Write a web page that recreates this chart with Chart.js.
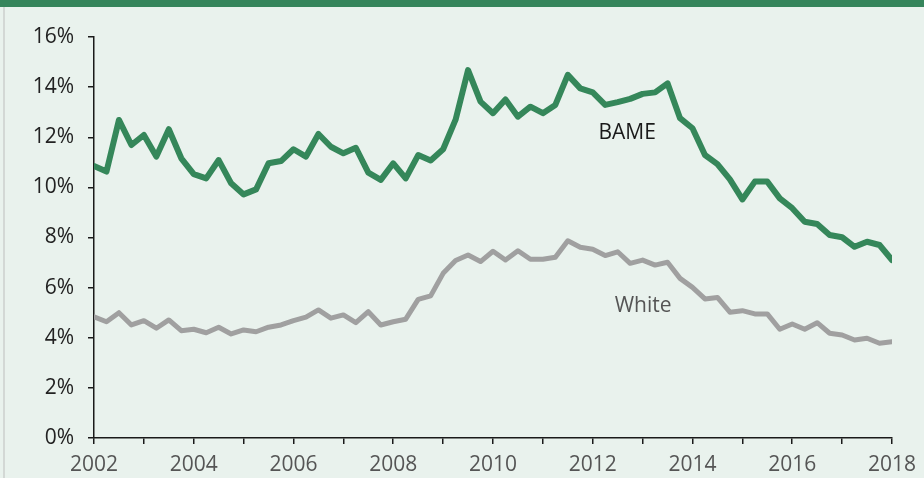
<!DOCTYPE html>
<html>
<head>
<meta charset="utf-8">
<script src="https://cdn.jsdelivr.net/npm/chart.js@4"></script>
<style>
  body { margin: 0; width: 924px; height: 478px; overflow: hidden; background: #e9f2ed; font-family: "Open Sans", sans-serif; }
  .banner { position: absolute; left: 0; top: 0; width: 924px; height: 7px; background: #35855b; }
  .edge { position: absolute; left: 3px; top: 7px; width: 2px; height: 471px; background: #d3d8d5; }
  #wrap { position: absolute; left: 0; top: 0; width: 924px; height: 478px; }
</style>
</head>
<body>
<div class="banner"></div>
<div class="edge"></div>
<div id="wrap"><canvas id="lineChart"></canvas></div>
<script>
// Quarterly rates, 2002 Q1 to 2018 Q1 (%)
const startYear = 2002;
const bame = [10.85, 10.63, 12.69, 11.69, 12.09, 11.23, 12.32, 11.16, 10.53, 10.36,
  11.09, 10.16, 9.72, 9.92, 10.96, 11.05, 11.52, 11.23, 12.13, 11.62,
  11.36, 11.58, 10.59, 10.30, 10.96, 10.36, 11.29, 11.07, 11.52, 12.7,
  14.68, 13.42, 12.96, 13.51, 12.82, 13.22, 12.96, 13.29, 14.49, 13.95,
  13.79, 13.29, 13.40, 13.53, 13.73, 13.79, 14.15, 12.76, 12.36, 11.29,
  10.93, 10.32, 9.52, 10.23, 10.23, 9.56, 9.17, 8.63, 8.54, 8.10,
  8.01, 7.63, 7.83, 7.70, 7.10];
const white = [4.84, 4.64, 5.00, 4.51, 4.68, 4.38, 4.71, 4.28, 4.34, 4.20,
  4.42, 4.15, 4.31, 4.24, 4.42, 4.51, 4.68, 4.82, 5.11, 4.78,
  4.91, 4.60, 5.04, 4.51, 4.64, 4.74, 5.53, 5.67, 6.57, 7.08,
  7.30, 7.04, 7.45, 7.10, 7.47, 7.13, 7.13, 7.21, 7.87, 7.61,
  7.53, 7.28, 7.43, 6.97, 7.10, 6.90, 7.01, 6.37, 6.01, 5.55,
  5.61, 5.02, 5.08, 4.95, 4.95, 4.34, 4.55, 4.34, 4.60, 4.18,
  4.11, 3.91, 3.98, 3.78, 3.84];
const quarterX = bame.map((_, i) => startYear + i / 4);

const yTicks = [0, 2, 4, 6, 8, 10, 12, 14, 16];

// where the series names sit (x in years, y in %)
const seriesLabels = [
  { text: "BAME", x: 2012.69, y: 12.17, color: "#1a1a1a" },
  { text: "White", x: 2013.01, y: 5.27, color: "#555555" },
];

const labelPlugin = {
  id: "seriesLabels",
  afterDatasetsDraw(chart) {
    const { ctx, scales } = chart;
    ctx.save();
    ctx.font = "21px 'Open Sans'";
    ctx.textAlign = "center";
    ctx.textBaseline = "middle";
    seriesLabels.forEach((l) => {
      ctx.fillStyle = l.color;
      ctx.fillText(l.text, scales.x.getPixelForValue(l.x), scales.y.getPixelForValue(l.y));
    });
    ctx.restore();
  },
};

const ctx = document.getElementById("lineChart").getContext("2d");

new Chart(ctx, {
  type: "line",
  data: {
    datasets: [
      {
        label: "BAME",
        data: quarterX.map((x, i) => ({ x: x, y: bame[i] })),
        borderColor: "#35875a",
        borderWidth: 6,
        pointRadius: 0,
        borderCapStyle: "round",
        borderJoinStyle: "round",
        tension: 0,
      },
      {
        label: "White",
        data: quarterX.map((x, i) => ({ x: x, y: white[i] })),
        borderColor: "#a0a0a0",
        borderWidth: 5,
        pointRadius: 0,
        borderCapStyle: "round",
        borderJoinStyle: "round",
        tension: 0,
      },
    ],
  },
  options: {
    responsive: true,
    maintainAspectRatio: false,
    animation: false,
    layout: { padding: { top: 37, right: 30, bottom: 0, left: 0 } },
    plugins: {
      legend: { display: false },
      tooltip: { enabled: false },
    },
    scales: {
      x: {
        type: "linear",
        min: 2002,
        max: 2018,
        afterFit: (scale) => { scale.height = 40; },
        grid: { drawOnChartArea: false, drawTicks: true, tickLength: 6, color: "#1a1a1a", lineWidth: 1.5 },
        border: { display: true, color: "#1a1a1a", width: 1.5 },
        ticks: {
          stepSize: 1,
          autoSkip: false,
          maxRotation: 0,
          padding: 8,
          color: "#555555",
          font: { family: "'Open Sans'", size: 21 },
          callback: (value) => (value % 2 === 0 ? String(value) : ""),
        },
      },
      y: {
        min: 0,
        max: 16,
        afterFit: (scale) => { scale.width = 94; },
        afterBuildTicks: (scale) => { scale.ticks = yTicks.map((v) => ({ value: v })); },
        grid: { drawOnChartArea: false, drawTicks: true, tickLength: 6, color: "#1a1a1a", lineWidth: 1.5 },
        border: { display: true, color: "#1a1a1a", width: 1.5 },
        ticks: {
          padding: 14,
          color: "#222222",
          font: { family: "'Open Sans'", size: 21 },
          callback: (value) => value + "%",
        },
      },
    },
  },
  plugins: [labelPlugin],
});
</script>
</body>
</html>
